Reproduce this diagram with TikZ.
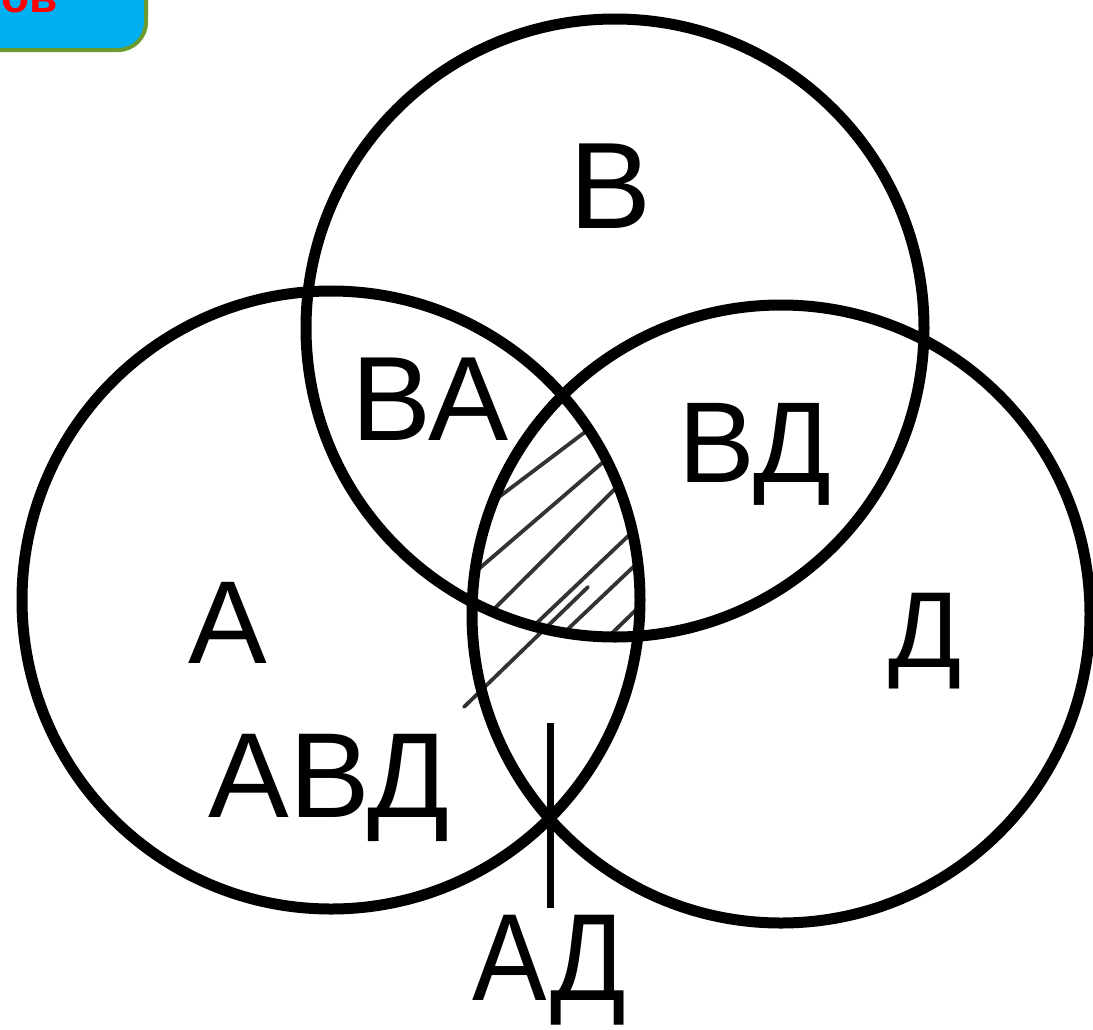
\documentclass[tikz,border=0pt]{standalone}
\usepackage{fontspec}
\setmainfont{Liberation Sans}
\definecolor{badgeblue}{HTML}{00B0F0}
\definecolor{badgegreen}{HTML}{6B9A30}
\definecolor{badgered}{HTML}{FF0000}
\tikzset{
  setcircle/.style={draw=black, line width=11pt},
  hatchline/.style={draw=black!80, line width=3.8pt, line cap=round},
  lbl/.style={inner sep=0pt, anchor=base, text=black},
  tickline/.style={draw=black, line width=7pt}
}
\newcommand\fsz[1]{\fontsize{#1}{#1}\selectfont}
\begin{document}
\begin{tikzpicture}[x=1pt,y=1pt]
\useasboundingbox (0,0) rectangle (1093,-1029);
\clip (0,0) rectangle (1093,-1029);
\fill[white] (0,0) rectangle (1093,-1029);
% badge (top-left, cut off)
\draw[fill=badgeblue, draw=badgegreen, line width=4pt, rounded corners=28pt] (-30,30) rectangle (146,-50);
\node[inner sep=0pt, anchor=base east, text=badgered, font=\fsz{46}\bfseries] (badgetext) at (58,-12) {ов};
% circle centres
\coordinate (cA) at (331,-600);
\coordinate (cB) at (615,-328);
\coordinate (cD) at (781,-614);
% hatching of the triple intersection
\begin{scope}
  \clip (cA) circle (309);
  \clip (cB) circle (309);
  \clip (cD) circle (309);
  \draw[hatchline] (495,-500) -- (597,-423);
  \draw[hatchline] (474,-573) -- (616,-451);
  \draw[hatchline] (485,-618) -- (625,-479);
  \draw[hatchline] (522,-637) -- (645,-520);
  \draw[hatchline] (549,-647) -- (648,-553);
  \draw[hatchline] (605,-640) -- (640,-606);
\end{scope}
\coordinate (h1) at (588,-587);
\coordinate (h2) at (464,-707);
\draw[hatchline] (h1) -- (h2);
% circles
\draw[setcircle] (cA) circle (309);
\draw[setcircle] (cB) circle (309);
\draw[setcircle] (cD) circle (309);
% labels
\node[lbl, font=\fsz{123}] (lB) at (611,-228) {В};
\node[lbl, font=\fsz{120}] (lBA) at (430,-440) {ВА};
\node[lbl, font=\fsz{115}] (lBD) at (755,-482) {ВД};
\node[lbl, font=\fsz{118}] (lA) at (228,-663) {А};
\node[lbl, font=\fsz{108}] (lD) at (925,-667) {Д};
\node[lbl, font=\fsz{121}] (lABD) at (329,-817) {АВД};
\node[lbl, font=\fsz{124}, xscale=0.9, transform shape] (lAD) at (549,-1000) {АД};
% tick from the A-D crossing towards the AD label
\coordinate (tickTop) at (550,-723);
\coordinate (tickBot) at (550,-908);
\draw[tickline] (tickTop) -- (tickBot);
\end{tikzpicture}
\end{document}
